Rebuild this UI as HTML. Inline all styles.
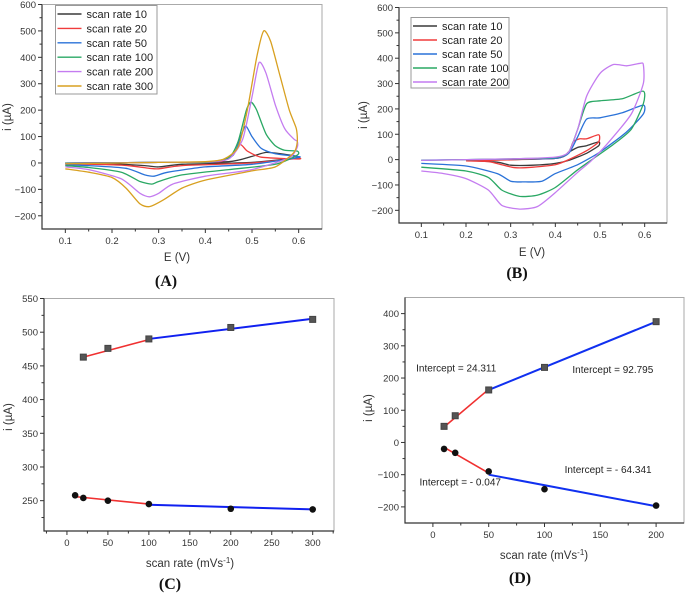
<!DOCTYPE html>
<html><head><meta charset="utf-8">
<style>
html,body{margin:0;padding:0;background:#fff;}
svg{display:block;font-family:"Liberation Sans",sans-serif;}
.tk{font-size:9.5px;fill:#333;}
.lab{font-size:11.5px;fill:#333;}
.pl{font-family:"Liberation Serif",serif;font-weight:bold;font-size:16px;fill:#111;}
.leg{font-size:11px;fill:#222;}
.ann{font-size:10px;fill:#222;}
</style></head>
<body>
<svg id="fig" width="685" height="593" viewBox="0 0 685 593"></svg>
<script>
// ---------- Data ----------
const legendA = ["scan rate 10","scan rate 20","scan rate 50","scan rate 100","scan rate 200","scan rate 300"];
const legendB = ["scan rate 10","scan rate 20","scan rate 50","scan rate 100","scan rate 200"];
const colors = ["#3a3a3a","#f03c3c","#2a72d8","#2aa864","#c47cf0","#d8a020"];
const cvA10 = [[0.1,0],[0.3,2],[0.45,5],[0.5,25],[0.53,40],[0.56,35],[0.597,25],[0.597,20],[0.5,2],[0.35,-5],[0.3,-15],[0.27,-10],[0.2,-3],[0.1,-1]];
const cvA20 = [[0.1,-1],[0.3,2],[0.43,5],[0.46,35],[0.475,70],[0.49,45],[0.52,22],[0.597,15],[0.597,17],[0.5,0],[0.35,-10],[0.3,-22],[0.28,-20],[0.22,-8],[0.1,-3]];
const cvA50 = [[0.1,-1],[0.3,2],[0.42,4],[0.46,30],[0.478,110],[0.487,140],[0.5,100],[0.52,55],[0.55,35],[0.597,25],[0.597,20],[0.5,-5],[0.4,-15],[0.32,-35],[0.29,-50],[0.27,-45],[0.23,-20],[0.15,-10],[0.1,-7]];
const cvA100 = [[0.1,-1],[0.3,2],[0.4,3],[0.45,20],[0.47,80],[0.488,200],[0.498,230],[0.51,200],[0.53,110],[0.55,65],[0.57,48],[0.597,45],[0.597,30],[0.55,-5],[0.45,-25],[0.35,-45],[0.3,-70],[0.285,-80],[0.26,-70],[0.22,-35],[0.15,-17],[0.1,-10]];
const cvA200 = [[0.1,-2],[0.3,2],[0.4,4],[0.45,15],[0.48,90],[0.5,250],[0.515,380],[0.53,340],[0.55,220],[0.57,130],[0.59,90],[0.597,82],[0.597,60],[0.58,20],[0.5,-25],[0.4,-50],[0.33,-80],[0.3,-115],[0.28,-128],[0.26,-115],[0.22,-60],[0.15,-25],[0.1,-15]];
const cvA300 = [[0.1,-3],[0.3,2],[0.4,5],[0.44,15],[0.47,60],[0.49,200],[0.51,400],[0.525,500],[0.54,460],[0.56,330],[0.58,200],[0.595,130],[0.597,80],[0.59,40],[0.55,-15],[0.5,-30],[0.4,-65],[0.35,-95],[0.31,-140],[0.28,-165],[0.26,-155],[0.23,-95],[0.2,-55],[0.15,-35],[0.1,-22]];
const cvB10 = [[0.2,-3],[0.4,5],[0.43,30],[0.45,48],[0.47,55],[0.497,70],[0.497,55],[0.47,25],[0.43,-3],[0.4,-15],[0.35,-22],[0.3,-22],[0.27,-10],[0.2,-3]];
const cvB20 = [[0.2,-5],[0.4,5],[0.43,30],[0.44,70],[0.455,82],[0.47,82],[0.497,98],[0.497,70],[0.47,35],[0.43,0],[0.4,-20],[0.35,-30],[0.31,-32],[0.28,-20],[0.25,-8],[0.2,-5]];
const cvB50 = [[0.1,-2],[0.3,2],[0.4,5],[0.43,25],[0.45,90],[0.47,160],[0.5,165],[0.55,185],[0.597,215],[0.597,180],[0.56,110],[0.5,30],[0.45,-20],[0.4,-55],[0.37,-85],[0.33,-88],[0.3,-85],[0.27,-55],[0.2,-25],[0.1,-15]];
const cvB100 = [[0.1,-3],[0.3,3],[0.4,8],[0.43,30],[0.45,120],[0.47,220],[0.5,232],[0.55,240],[0.597,270],[0.597,220],[0.57,120],[0.53,60],[0.49,10],[0.45,-40],[0.4,-110],[0.36,-140],[0.32,-145],[0.28,-120],[0.25,-70],[0.2,-45],[0.1,-30]];
const cvB200 = [[0.1,-3],[0.3,3],[0.4,10],[0.43,30],[0.45,120],[0.47,250],[0.5,340],[0.53,375],[0.56,370],[0.59,380],[0.597,375],[0.597,300],[0.57,180],[0.52,70],[0.48,-5],[0.45,-50],[0.4,-130],[0.36,-185],[0.32,-195],[0.28,-180],[0.25,-120],[0.2,-75],[0.15,-55],[0.1,-45]];
const ratesC_top = [20,50,100,200,300];
const valsC_top = [463,476,490,507,519];
const ratesC_bot = [10,20,50,100,200,300];
const valsC_bot = [258,254,250,245,238,237];
const fitC = [[20,463,100,489,"#f03030"],[100,490,300,520,"#1020f0"],[10,256,100,245,"#f03030"],[100,244,300,237,"#1020f0"]];
const ratesD_top = [10,20,50,100,200];
const valsD_top = [50,83,163,233,375];
const ratesD_bot = [10,20,50,100,200];
const valsD_bot = [-20,-32,-90,-145,-196];
const fitD = [[10,48,50,165,"#f03030"],[50,163,200,375,"#1030f0"],[10,-15,50,-95,"#f03030"],[50,-100,200,-198,"#1030f0"]];
const annD = ["Intercept = 24.311","Intercept = 92.795","Intercept = - 64.341","Intercept = - 0.047"];
const annDpos = [[-15,220],[125,215],[118,-95],[-12,-133]];

// ---------- helpers ----------
const svg = document.getElementById('fig');
const NS = "http://www.w3.org/2000/svg";
function mk(tag, attrs, parent, text){
  const e = document.createElementNS(NS, tag);
  for (const k in attrs) e.setAttribute(k, attrs[k]);
  if (text !== undefined) e.textContent = text;
  (parent||svg).appendChild(e);
  return e;
}
function fmt(v){ return (v<0?"\u2212":"") + Math.abs(v); }
function makePanel(p){
  const g = mk('g', {});
  
  
  const sx = v => p.l + (v - p.x0)/(p.x1 - p.x0)*(p.r - p.l);
  const sy = v => p.b - (v - p.y0)/(p.y1 - p.y0)*(p.b - p.t);
  const frame = mk('rect', {x:p.l, y:p.t, width:p.r-p.l, height:p.b-p.t, fill:'none', stroke:'#aaa', 'stroke-width':1}, g);
  
  
  const ax = mk('path', {d:`M${p.l},${p.t}V${p.b}H${p.r}`, fill:'none', stroke:'#333', 'stroke-width':1.2}, g);
  
  
  const xg = mk('g', {}, g);
  
  
  p.xt.forEach((v,i) => {
    const x = sx(v);
    mk('line', {x1:x, x2:x, y1:p.b, y2:p.b+4, stroke:'#333'}, xg);
    const xm = sx(v + p.xstep/2);
    if (xm < p.r) mk('line', {x1:xm, x2:xm, y1:p.b, y2:p.b+2.5, stroke:'#333'}, xg);
    const xb = sx(v - p.xstep/2);
    if (i===0 && xb > p.l) mk('line', {x1:xb, x2:xb, y1:p.b, y2:p.b+2.5, stroke:'#333'}, xg);
    const t = mk('text', {x:x, y:p.b+15, 'text-anchor':'middle', class:'tk'}, xg, p.xl(v));
    
    
  });
  const yg = mk('g', {}, g);
  
  
  p.yt.forEach((v,i) => {
    const y = sy(v);
    mk('line', {x1:p.l-4, x2:p.l, y1:y, y2:y, stroke:'#333'}, yg);
    const ym = sy(v - p.ystep/2);
    if (ym < p.b) mk('line', {x1:p.l-2.5, x2:p.l, y1:ym, y2:ym, stroke:'#333'}, yg);
    const t = mk('text', {x:p.l-6, y:y+3.5, 'text-anchor':'end', class:'tk'}, yg, fmt(v));
    
    
  });
  return {g, sx, sy};
}
function smoothPath(pts, sx, sy){
  const P = pts.map(q => [sx(q[0]), sy(q[1])]);
  const k = 1/9;
  let d = `M${P[0][0].toFixed(1)},${P[0][1].toFixed(1)}`;
  for (let i=0;i<P.length-1;i++){
    const p0 = P[Math.max(0,i-1)], p1=P[i], p2=P[i+1], p3=P[Math.min(P.length-1,i+2)];
    const c1=[p1[0]+(p2[0]-p0[0])*k, p1[1]+(p2[1]-p0[1])*k];
    const c2=[p2[0]-(p3[0]-p1[0])*k, p2[1]-(p3[1]-p1[1])*k];
    d += `C${c1[0].toFixed(1)},${c1[1].toFixed(1)} ${c2[0].toFixed(1)},${c2[1].toFixed(1)} ${p2[0].toFixed(1)},${p2[1].toFixed(1)}`;
  }
  return d;
}
function label(x,y,cls,name,rot){
  const t = mk('text', {x:x, y:y, 'text-anchor':'middle', class:cls});
  if (rot) t.setAttribute('transform', `rotate(-90 ${x} ${y})`);
  
  
  return t;
}
function legend(g, x, y, w, h, items, step){
  const lg = mk('g', {}, g);
  
  
  mk('rect', {x:x, y:y, width:w, height:h, fill:'#fff', stroke:'#999'}, lg);
  items.forEach((s,i) => {
    const e = mk('g', {}, lg);
    
    
    const yy = y + 8.5 + i*step;
    mk('line', {x1:x+2, x2:x+26, y1:yy, y2:yy, stroke:colors[i], 'stroke-width':1.4}, e);
    mk('text', {x:x+31, y:yy+4, class:'leg'}, e, s);
  });
}

// ---------- Panel A ----------
(function(){
  const pa = makePanel({name:'panel-a-cv', l:42, t:4.5, r:322, b:229, x0:0.05, x1:0.65, y0:-250, y1:600,
    xt:[0.1,0.2,0.3,0.4,0.5,0.6], xstep:0.1, xl:v=>v.toFixed(1), yt:[-200,-100,0,100,200,300,400,500,600], ystep:100});
  [cvA10,cvA20,cvA50,cvA100,cvA200,cvA300].forEach((c,i) => {
    const path = mk('path', {d:smoothPath(c, pa.sx, pa.sy), fill:'none', stroke:colors[i], 'stroke-width':1.3}, pa.g);
    
    
  });
  legend(pa.g, 55.5, 5.5, 101.5, 88.5, legendA, 14.4);
  label(11,117,'lab','y-axis-title',true).textContent = 'i (\u00b5A)';
  label(177,261,'lab','x-axis-title').textContent = 'E (V)';
  label(166,286,'pl','panel-label-a').textContent = '(A)';
})();

// ---------- Panel B ----------
(function(){
  const pb = makePanel({name:'panel-b-cv', l:399, t:7.5, r:667, b:223, x0:0.05, x1:0.65, y0:-250, y1:600,
    xt:[0.1,0.2,0.3,0.4,0.5,0.6], xstep:0.1, xl:v=>v.toFixed(1), yt:[-200,-100,0,100,200,300,400,500,600], ystep:100});
  [cvB10,cvB20,cvB50,cvB100,cvB200].forEach((c,i) => {
    const path = mk('path', {d:smoothPath(c, pb.sx, pb.sy), fill:'none', stroke:colors[i], 'stroke-width':1.3}, pb.g);
    
    
  });
  legend(pb.g, 411, 17.5, 98, 70.5, legendB, 14);
  label(367,115,'lab','y-axis-title',true).textContent = 'i (\u00b5A)';
  label(532,256,'lab','x-axis-title').textContent = 'E (V)';
  label(517,278,'pl','panel-label-b').textContent = '(B)';
})();

// ---------- scatter panels ----------
function scatter(pp, tx, ty, bx, by, fits){
  fits.forEach(f => {
    const l = mk('line', {x1:pp.sx(f[0]), y1:pp.sy(f[1]), x2:pp.sx(f[2]), y2:pp.sy(f[3]), stroke:f[4], 'stroke-width':f[4]==="#f03030"?1.6:2}, pp.g);
    
    
  });
  tx.forEach((x,i) => {
    const r = mk('rect', {x:pp.sx(x)-3, y:pp.sy(ty[i])-3, width:6, height:6, fill:'#555', stroke:'#444'}, pp.g);
    
    
  });
  bx.forEach((x,i) => {
    const c = mk('circle', {cx:pp.sx(x), cy:pp.sy(by[i]), r:3.3, fill:'#111'}, pp.g);
    
    
  });
}
function xTitle(x,y,name){
  const t = mk('text', {x:x, y:y, 'text-anchor':'middle', class:'lab'});
  
  
  t.appendChild(document.createTextNode('scan rate (mVs'));
  mk('tspan', {dy:-4, 'font-size':'8px'}, t, '-1');
  mk('tspan', {dy:4}, t, ')');
}

// ---------- Panel C ----------
(function(){
  const pc = makePanel({name:'panel-c-peak-current', l:44, t:298.5, r:334, b:531, x0:-28, x1:326, y0:205, y1:550,
    xt:[0,50,100,150,200,250,300], xstep:50, xl:v=>String(v), yt:[250,300,350,400,450,500,550], ystep:50});
  scatter(pc, ratesC_top, valsC_top, ratesC_bot, valsC_bot, fitC);
  label(12,417,'lab','y-axis-title',true).textContent = 'i (\u00b5A)';
  xTitle(190,567,'x-axis-title');
  label(170,589,'pl','panel-label-c').textContent = '(C)';
})();

// ---------- Panel D ----------
(function(){
  const pd = makePanel({name:'panel-d-peak-current', l:405, t:297.5, r:684, b:523, x0:-25, x1:225, y0:-250, y1:450,
    xt:[0,50,100,150,200], xstep:50, xl:v=>String(v), yt:[-200,-100,0,100,200,300,400], ystep:100});
  scatter(pd, ratesD_top, valsD_top, ratesD_bot, valsD_bot, fitD);
  annD.forEach((s,i) => {
    const t = mk('text', {x:pd.sx(annDpos[i][0]), y:pd.sy(annDpos[i][1]), class:'ann'}, pd.g, s);
    
    
  });
  label(372,408,'lab','y-axis-title',true).textContent = 'i (\u00b5A)';
  xTitle(544,559,'x-axis-title');
  label(520,583,'pl','panel-label-d').textContent = '(D)';
})();
</script>
</body></html>
